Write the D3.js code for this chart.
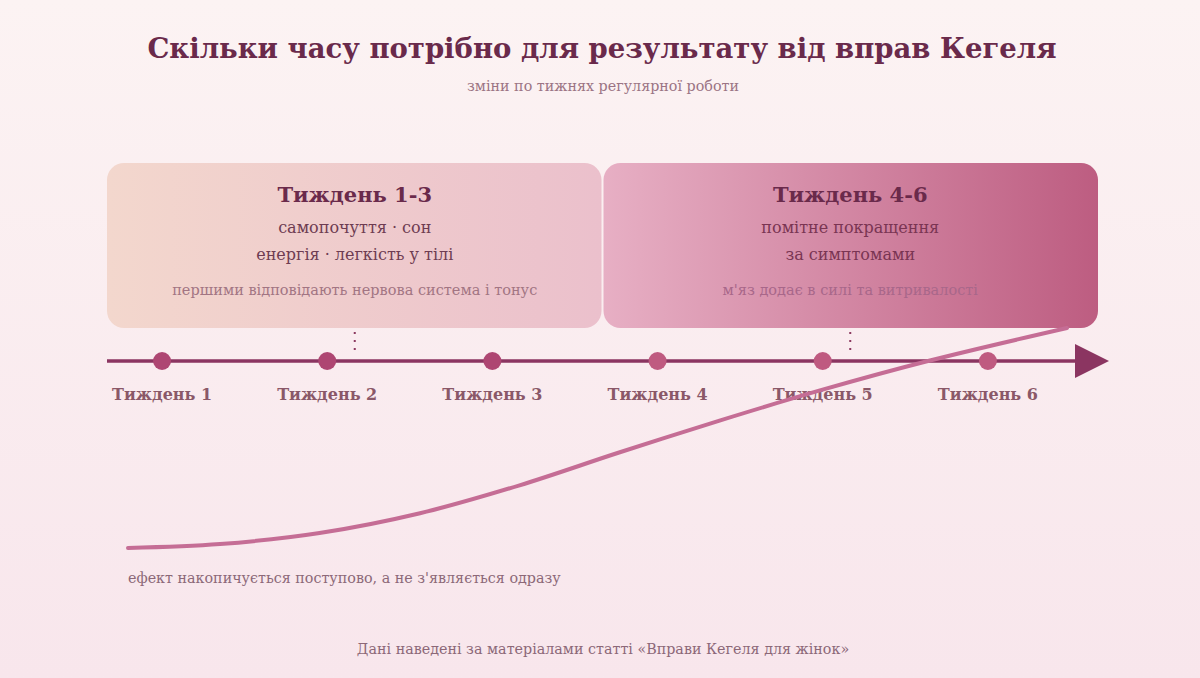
<!DOCTYPE html>
<html lang="uk">
<head>
<meta charset="UTF-8">
<title>Скільки часу потрібно для результату від вправ Кегеля</title>
<script src="https://d3js.org/d3.v7.min.js"></script>
<style>
  html, body { margin: 0; padding: 0; }
  body { width: 1200px; height: 678px; overflow: hidden; font-family: "DejaVu Serif", Georgia, serif; }
  svg { display: block; }
</style>
</head>
<body>
<svg width="1200" height="678"></svg>
<script>
// ---- дані ----
const titleText = "Скільки часу потрібно для результату від вправ Кегеля";
const subtitleText = "зміни по тижнях регулярної роботи";
const weeks = [1, 2, 3, 4, 5, 6];
const weekLabels = ["Тиждень 1", "Тиждень 2", "Тиждень 3", "Тиждень 4", "Тиждень 5", "Тиждень 6"];
const phaseNames = ["Тиждень 1-3", "Тиждень 4-6"];
const phaseStart = [1, 4];
const phaseEnd = [3, 6];
const phaseLines = [
  ["самопочуття · сон", "енергія · легкість у тілі"],
  ["помітне покращення", "за симптомами"]
];
const phaseNotes = ["першими відповідають нервова система і тонус", "м'яз додає в силі та витривалості"];
// крива накопичення ефекту: частка шляху (0..1) і рівень ефекту (0..1)
const curveT = [0, 0.098, 0.204, 0.311, 0.417, 0.523, 0.630, 0.736, 0.853, 1];
const curveEffect = [0, 0.018, 0.068, 0.158, 0.285, 0.434, 0.579, 0.715, 0.851, 1];
const curveNote = "ефект накопичується поступово, а не з'являється одразу";
const sourceText = "Дані наведені за матеріалами статті «Вправи Кегеля для жінок»";

const width = 1200, height = 678;
const svg = d3.select("svg");
const defs = svg.append("defs");

// фон
const bg = defs.append("linearGradient").attr("id", "bg").attr("x1", 0).attr("y1", 0).attr("x2", 0).attr("y2", 1);
bg.append("stop").attr("offset", "0%").attr("stop-color", "#fcf3f3");
bg.append("stop").attr("offset", "100%").attr("stop-color", "#f8e6ec");
svg.append("rect").attr("width", width).attr("height", height).attr("fill", "url(#bg)");

const boxColors = [["#f3d7cd", "#ebc0cc"], ["#e7afc4", "#bd5d81"]];
boxColors.forEach((c, i) => {
  const g = defs.append("linearGradient").attr("id", "box" + i).attr("x1", 0).attr("x2", 1).attr("y1", 0).attr("y2", 0);
  g.append("stop").attr("offset", "0%").attr("stop-color", c[0]);
  g.append("stop").attr("offset", "100%").attr("stop-color", c[1]);
});

// шкали
const x = d3.scaleLinear().domain([2 / 3, 20 / 3]).range([107, 1098]);
const axisY = 361;
const xc = d3.scaleLinear().domain([0, 1]).range([128, 1067]);
const yc = d3.scaleLinear().domain([0, 1]).range([548, 328]);

// заголовок
svg.append("text").attr("x", 602).attr("y", 58).attr("text-anchor", "middle")
  .style("font-size", "27.5px").style("font-weight", "bold").attr("fill", "#6a2a4b")
  .text(titleText);
svg.append("text").attr("x", 603).attr("y", 91).attr("text-anchor", "middle")
  .style("font-size", "14.3px").attr("fill", "#9b7484")
  .text(subtitleText);

// блоки фаз
const phases = phaseNames.map((name, i) => ({
  name, i, start: phaseStart[i], end: phaseEnd[i], lines: phaseLines[i], note: phaseNotes[i]
}));
const boxTop = 163, boxBottom = 328;
const pg = svg.selectAll(".phase").data(phases).join("g").attr("class", "phase");
pg.append("rect")
  .attr("x", d => x(d.start - 1 / 3) + (d.i ? 1 : 0))
  .attr("y", boxTop)
  .attr("width", d => x(d.end + 2 / 3) - x(d.start - 1 / 3) - 1)
  .attr("height", boxBottom - boxTop)
  .attr("rx", 17)
  .attr("fill", d => `url(#box${d.i})`);
const cx = d => (x(d.start - 1 / 3) + x(d.end + 2 / 3)) / 2;
pg.append("text").attr("x", cx).attr("y", 202).attr("text-anchor", "middle")
  .style("font-size", "21px").style("font-weight", "bold").attr("fill", "#6a2a4b")
  .text(d => d.name);
pg.each(function (d) {
  d3.select(this).selectAll(".ln").data(d.lines).join("text").attr("class", "ln")
    .attr("x", cx(d)).attr("y", (l, j) => 233 + j * 27).attr("text-anchor", "middle")
    .style("font-size", "16px").attr("fill", d.i ? "#7a3553" : "#6e3c52")
    .text(l => l);
});
pg.append("text").attr("x", cx).attr("y", 295).attr("text-anchor", "middle")
  .style("font-size", "14.5px").attr("fill", d => d.i ? "#a8678a" : "#a27583")
  .text(d => d.note);

// пунктирні з'єднувачі
pg.append("line")
  .attr("x1", cx).attr("x2", cx).attr("y1", 332).attr("y2", 352)
  .attr("stroke", "#8c3a60").attr("stroke-width", 2).attr("stroke-dasharray", "2,6");

// вісь часу
svg.append("line").attr("x1", 107).attr("x2", 1082).attr("y1", axisY).attr("y2", axisY)
  .attr("stroke", "#8b3561").attr("stroke-width", 3.5);
svg.append("path")
  .attr("d", `M1075,${axisY - 17}L1109,${axisY}L1075,${axisY + 17}Z`)
  .attr("fill", "#8b3561");

// точки тижнів
svg.selectAll(".dot").data(weeks).join("circle").attr("class", "dot")
  .attr("cx", d => x(d)).attr("cy", axisY).attr("r", 9)
  .attr("fill", d => d <= 3 ? "#ae4672" : "#bf5a80");
svg.selectAll(".wk").data(weeks).join("text").attr("class", "wk")
  .attr("x", d => x(d)).attr("y", 400).attr("text-anchor", "middle")
  .style("font-size", "16px").style("font-weight", "bold").attr("fill", "#8a5868")
  .text((d, i) => weekLabels[i]);

// крива ефекту
const curveData = curveT.map((t, i) => [t, curveEffect[i]]);
svg.append("path")
  .datum(curveData)
  .attr("d", d3.line().x(d => xc(d[0])).y(d => yc(d[1])).curve(d3.curveCatmullRom))
  .attr("fill", "none").attr("stroke", "#c56d95").attr("stroke-width", 4).attr("stroke-linecap", "round");

// підписи внизу
svg.append("text").attr("x", 128).attr("y", 583)
  .style("font-size", "14.3px").attr("fill", "#8c6878")
  .text(curveNote);
svg.append("text").attr("x", 603).attr("y", 654).attr("text-anchor", "middle")
  .style("font-size", "14.3px").attr("fill", "#8c6878")
  .text(sourceText);
</script>
</body>
</html>
